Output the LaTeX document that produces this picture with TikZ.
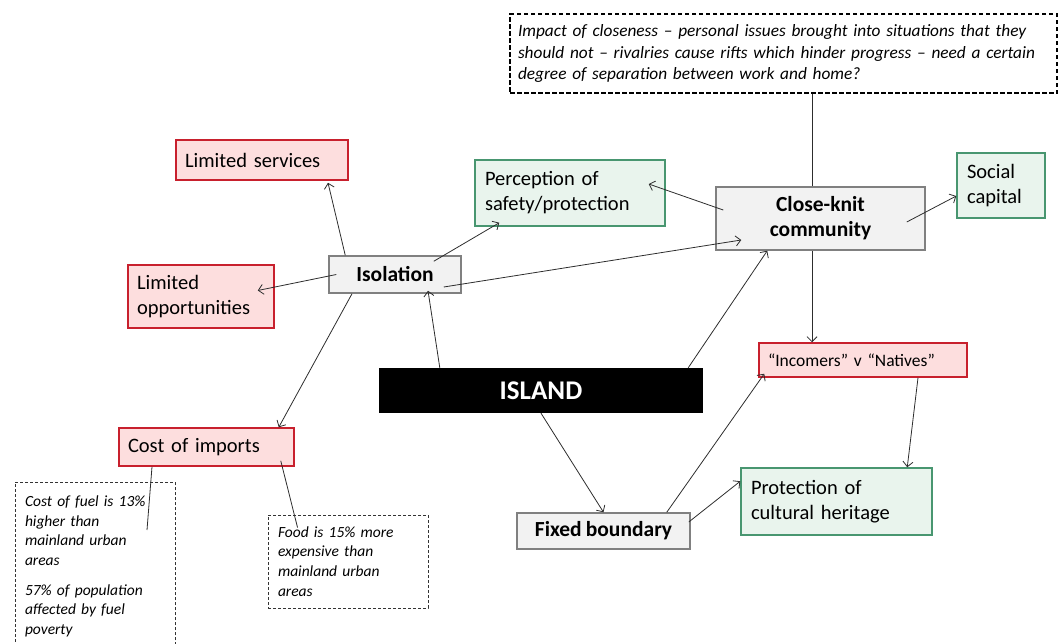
\documentclass[tikz,border=0pt]{standalone}
\usepackage{fontspec}
\setmainfont{Carlito}[WordSpace=0.85]
\usetikzlibrary{arrows.meta}

\definecolor{issueline}{RGB}{200,32,45}
\definecolor{issuefill}{RGB}{253,222,222}
\definecolor{goodline}{RGB}{72,150,112}
\definecolor{goodfill}{RGB}{233,244,237}
\definecolor{factorline}{RGB}{128,128,128}
\definecolor{factorfill}{RGB}{242,242,242}
\definecolor{linkcol}{RGB}{45,45,45}

\begin{document}
\begin{tikzpicture}[x=1pt, y=-1pt,
    issuebox/.style={draw=issueline, fill=issuefill, line width=1.5pt, align=left, inner xsep=9pt,
        font=\fontsize{20.5}{25}\selectfont},
    goodbox/.style={draw=goodline, fill=goodfill, line width=1.5pt, align=left, inner xsep=10pt,
        font=\fontsize{20.5}{25}\selectfont},
    factorbox/.style={draw=factorline, fill=factorfill, line width=1.5pt, align=center,
        font=\fontsize{21.5}{25}\selectfont\bfseries},
    notebox/.style={draw=black!80, dash pattern=on 3pt off 2pt, line width=0.9pt, align=left, inner xsep=10pt,
        font=\fontsize{15.5}{19.7}\selectfont\itshape},
    link/.style={draw=linkcol, line width=0.8pt, -{Straight Barb[length=5pt, width=10pt]}}]

    \useasboundingbox (0,0) rectangle (1059,643);
    \clip (0,0) rectangle (1059,643);

    % Nota in alto
    \node[notebox, draw=black, line width=1.6pt, dash pattern=on 4.5pt off 2.5pt, font=\fontsize{17.3}{21.5}\selectfont\itshape,
          text width=531pt, inner xsep=8pt, minimum height=79pt] (closenote) at (783.5,53.5)
        {Impact of closeness -- personal issues brought into situations that they\\
         should not -- rivalries cause rifts which hinder progress -- need a certain\\
         degree of separation between work and home?};

    % Nodo centrale
    \node[fill=black, text=white, font=\fontsize{27}{30}\selectfont\bfseries, minimum width=324pt, minimum height=45pt] (island) at (541,390.5) {ISLAND};

    % Fattori
    \node[factorbox, minimum width=132pt, minimum height=37pt] (iso) at (395,274.5) {Isolation};
    \node[factorbox, minimum width=209pt, minimum height=63pt] (close) at (820.5,218.5) {Close-knit\\community};
    \node[factorbox, minimum width=173pt, minimum height=36pt] (fixb) at (603.5,531) {Fixed boundary};

    % Aspetti negativi
    \node[issuebox, text width=154pt, minimum height=40pt] (lserv) at (262,160) {Limited services};
    \node[issuebox, text width=128pt, minimum height=63pt] (lopp) at (201,296.5) {Limited\\opportunities};
    \node[issuebox, text width=157pt, minimum height=38pt] (cost) at (206.5,447) {Cost of imports};
    \node[issuebox, font=\fontsize{17.5}{21}\selectfont, text width=190pt, minimum height=34pt] (incom) at (863,360) {``Incomers'' v ``Natives''};

    % Aspetti positivi
    \node[goodbox, text width=170pt, minimum height=66pt] (perc) at (570,193) {Perception of\\safety/protection};
    \node[goodbox, text width=68pt, minimum height=65pt] (social) at (1001,185.5) {Social\\capital};
    \node[goodbox, text width=171pt, minimum height=67pt] (herit) at (836.5,501.5) {Protection of\\cultural heritage};

    % Note sui costi
    \node[notebox, text width=140pt, minimum height=168pt, anchor=north] (fuel) at (95,482)
        {Cost of fuel is 13\%\\higher than\\mainland urban\\areas\\[10pt]57\% of population\\affected by fuel\\poverty};
    \node[notebox, text width=140pt, minimum height=93pt] (food) at (348,561.5)
        {Food is 15\% more\\expensive than\\mainland urban\\areas};

    % Frecce
    \draw[link] ([xshift=61pt]island.north west) -- ([xshift=33pt, yshift=3pt]iso.south);
    \draw[link] ([xshift=-15pt]island.north east) -- ([xshift=52pt]close.south west);
    \draw[link] (island.south) -- (fixb.north);

    \draw[link] ([xshift=17pt]iso.north west) -- ([xshift=66pt, yshift=-2pt]lserv.south);
    \draw[link] ([xshift=8pt]iso.west) -- ([xshift=-17pt, yshift=6pt]lopp.east);
    \draw[link] ([xshift=-28pt, yshift=-6pt]iso.north east) -- ([xshift=25pt, yshift=4pt]perc.south west);
    \draw[link] ([xshift=-18pt, yshift=-12.5pt]iso.east) -- ([xshift=26pt, yshift=-21.5pt]close.west);
    \draw[link] ([xshift=-43pt]iso.south) -- ([xshift=-16pt]cost.north east);

    \draw[link] ([xshift=8pt, yshift=8.5pt]close.west) -- ([xshift=-17pt, yshift=9pt]perc.east);
    \draw[link] ([xshift=-19pt, yshift=-3.5pt]close.east) -- ([yshift=-10.5pt]social.west);
    \draw[draw=linkcol, line width=0.8pt] ([xshift=-8.5pt]close.north) -- ([xshift=-8.5pt]close.north |- closenote.south);
    \draw[link] ([xshift=-8.5pt]close.south) -- ([xshift=-8.5pt]close.south |- incom.north);

    \draw[link] ([xshift=-24pt]fixb.north east) -- ([xshift=6pt, yshift=4pt]incom.south west);
    \draw[link] ([xshift=-2pt, yshift=9pt]fixb.east) -- ([yshift=-14pt]herit.north west);
    \draw[link] ([xshift=55pt]incom.south) -- ([xshift=-25.5pt]herit.north east);

    % Linee verso le note
    \draw[draw=linkcol, line width=0.8pt] ([xshift=-54.5pt]cost.south) -- ([xshift=52pt, yshift=-48pt]fuel.north);
    \draw[draw=linkcol, line width=0.8pt] ([xshift=-14pt, yshift=6pt]cost.south east) -- ([xshift=30pt, yshift=-13pt]food.north west);
\end{tikzpicture}
\end{document}
